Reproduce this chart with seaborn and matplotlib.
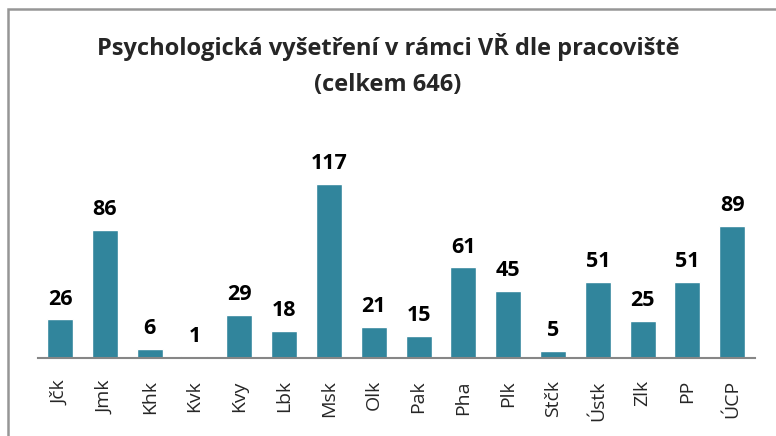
import pandas as pd
import matplotlib
matplotlib.use("Agg")
import matplotlib.pyplot as plt
import seaborn as sns
from matplotlib.patches import Rectangle

# data
pracoviste = ['Jčk', 'Jmk', 'Khk', 'Kvk', 'Kvy', 'Lbk', 'Msk', 'Olk',
              'Pak', 'Pha', 'Plk', 'Stčk', 'Ústk', 'Zlk', 'PP', 'ÚCP']
pocty = [26, 86, 6, 1, 29, 18, 117, 21, 15, 61, 45, 5, 51, 25, 51, 89]

df = pd.DataFrame({'pracoviste': pracoviste, 'pocet': pocty})

sns.set_theme(style="white")
plt.rcParams['font.family'] = ['Open Sans', 'DejaVu Sans']

BAR = '#31859C'

fig = plt.figure(figsize=(7.76, 4.36), dpi=100)
ax = fig.add_axes([0.0485, 0.179, 0.924, 0.477])

sns.barplot(data=df, x='pracoviste', y='pocet', color=BAR, width=0.58,
            saturation=1, ax=ax)
ax.bar_label(ax.containers[0], fmt='%d', padding=7, fontsize=15.5,
             fontweight='bold', color='black')

ax.set_xlim(-0.5, len(pracoviste) - 0.5)
ax.set_ylim(0, 140)
ax.set_xlabel('')
ax.set_ylabel('')
ax.set_yticks([])
for s in ['top', 'right', 'left']:
    ax.spines[s].set_visible(False)
ax.spines['bottom'].set_color('#868686')
ax.spines['bottom'].set_linewidth(1.5)
ax.tick_params(axis='x', length=0, pad=16, labelsize=14, labelrotation=90)

fig.text(0.5, 0.892, 'Psychologická vyšetření v rámci VŘ dle pracoviště',
         ha='center', va='center', fontsize=17, fontweight='bold')
fig.text(0.5, 0.805, '(celkem 646)', ha='center', va='center',
         fontsize=17, fontweight='bold')

# ramecek grafu (vpravo a dole oriznuty)
fig.patches.append(Rectangle((8 / 776, -0.1), 1.2, 1.1 - 9.5 / 436,
                             transform=fig.transFigure, fill=False,
                             edgecolor='#969696', linewidth=1.8))

fig.savefig('out.png', dpi=100)
